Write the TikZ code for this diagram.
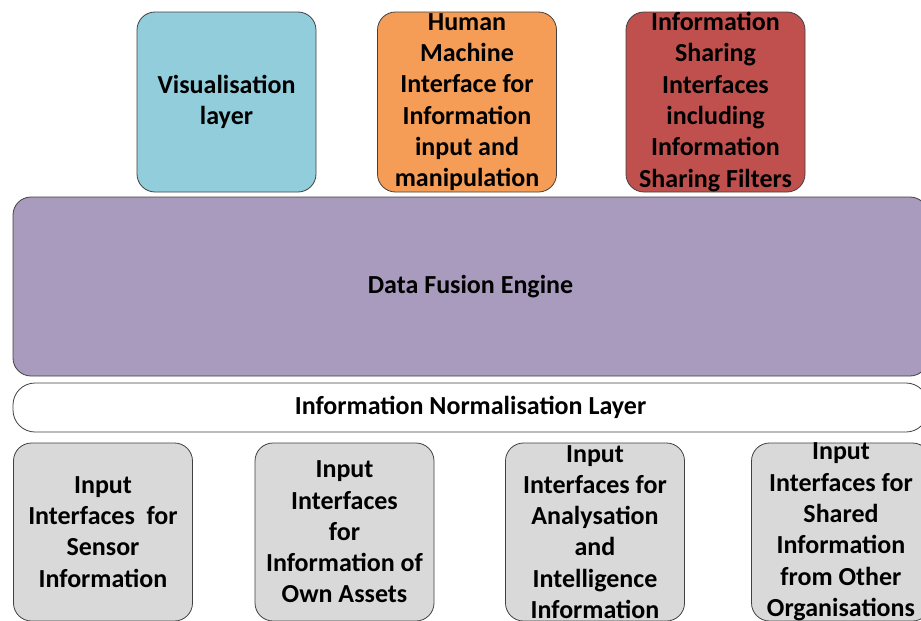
\documentclass[tikz,border=0pt]{standalone}
\usepackage{fontspec}
\setmainfont{Carlito}
\usetikzlibrary{positioning}
\definecolor{visblue}{HTML}{92CDDC}
\definecolor{hmiorange}{HTML}{F59D56}
\definecolor{sharered}{HTML}{C0504D}
\definecolor{fusionpurple}{HTML}{A99BBD}
\definecolor{inputgrey}{HTML}{D9D9D9}
\tikzset{
  layerbox/.style={draw=black!75,line width=0.8pt,rounded corners=18pt,
    align=center,inner sep=0pt,text=black,
    font=\bfseries\fontsize{26}{31.3}\selectfont},
  topbox/.style={layerbox,minimum width=179pt,minimum height=180pt},
  inbox/.style={layerbox,fill=inputgrey,minimum width=179pt,minimum height=178pt}
}
\begin{document}
\begin{tikzpicture}[x=1pt,y=-1pt]
\useasboundingbox (0,0) rectangle (921,621);
% top row
\node[topbox,fill=visblue] (vis) at (226.5,102) {Visualisation\\layer};
\node[topbox,fill=hmiorange] (hmi) at (467,102) {Human\\Machine\\Interface for\\Information\\input and\\manipulation};
\node[topbox,fill=sharered] (share) at (715.5,102) {Information\\Sharing\\Interfaces\\including\\Information\\Sharing Filters};
% fusion and normalisation
\node[layerbox,fill=fusionpurple,minimum width=915pt,minimum height=179pt] (fusion) at (470.5,286.5) {Data Fusion Engine};
\node[layerbox,fill=white,rounded corners=22pt,minimum width=915pt,minimum height=49pt] (norm) at (470.5,407.5) {Information Normalisation Layer};
% input interfaces
\node[inbox] (sensor) at (103,532) {Input\\Interfaces~ for\\Sensor\\Information};
\node[inbox] (assets) at (344.5,532) {Input\\Interfaces\\for\\Information of\\Own Assets};
\node[inbox] (intel) at (595,532) {Input\\Interfaces for\\Analysation\\and\\Intelligence\\Information};
\node[inbox] (shared) at (841,532) {Input\\Interfaces for\\Shared\\Information\\from Other\\Organisations};
\end{tikzpicture}
\end{document}
